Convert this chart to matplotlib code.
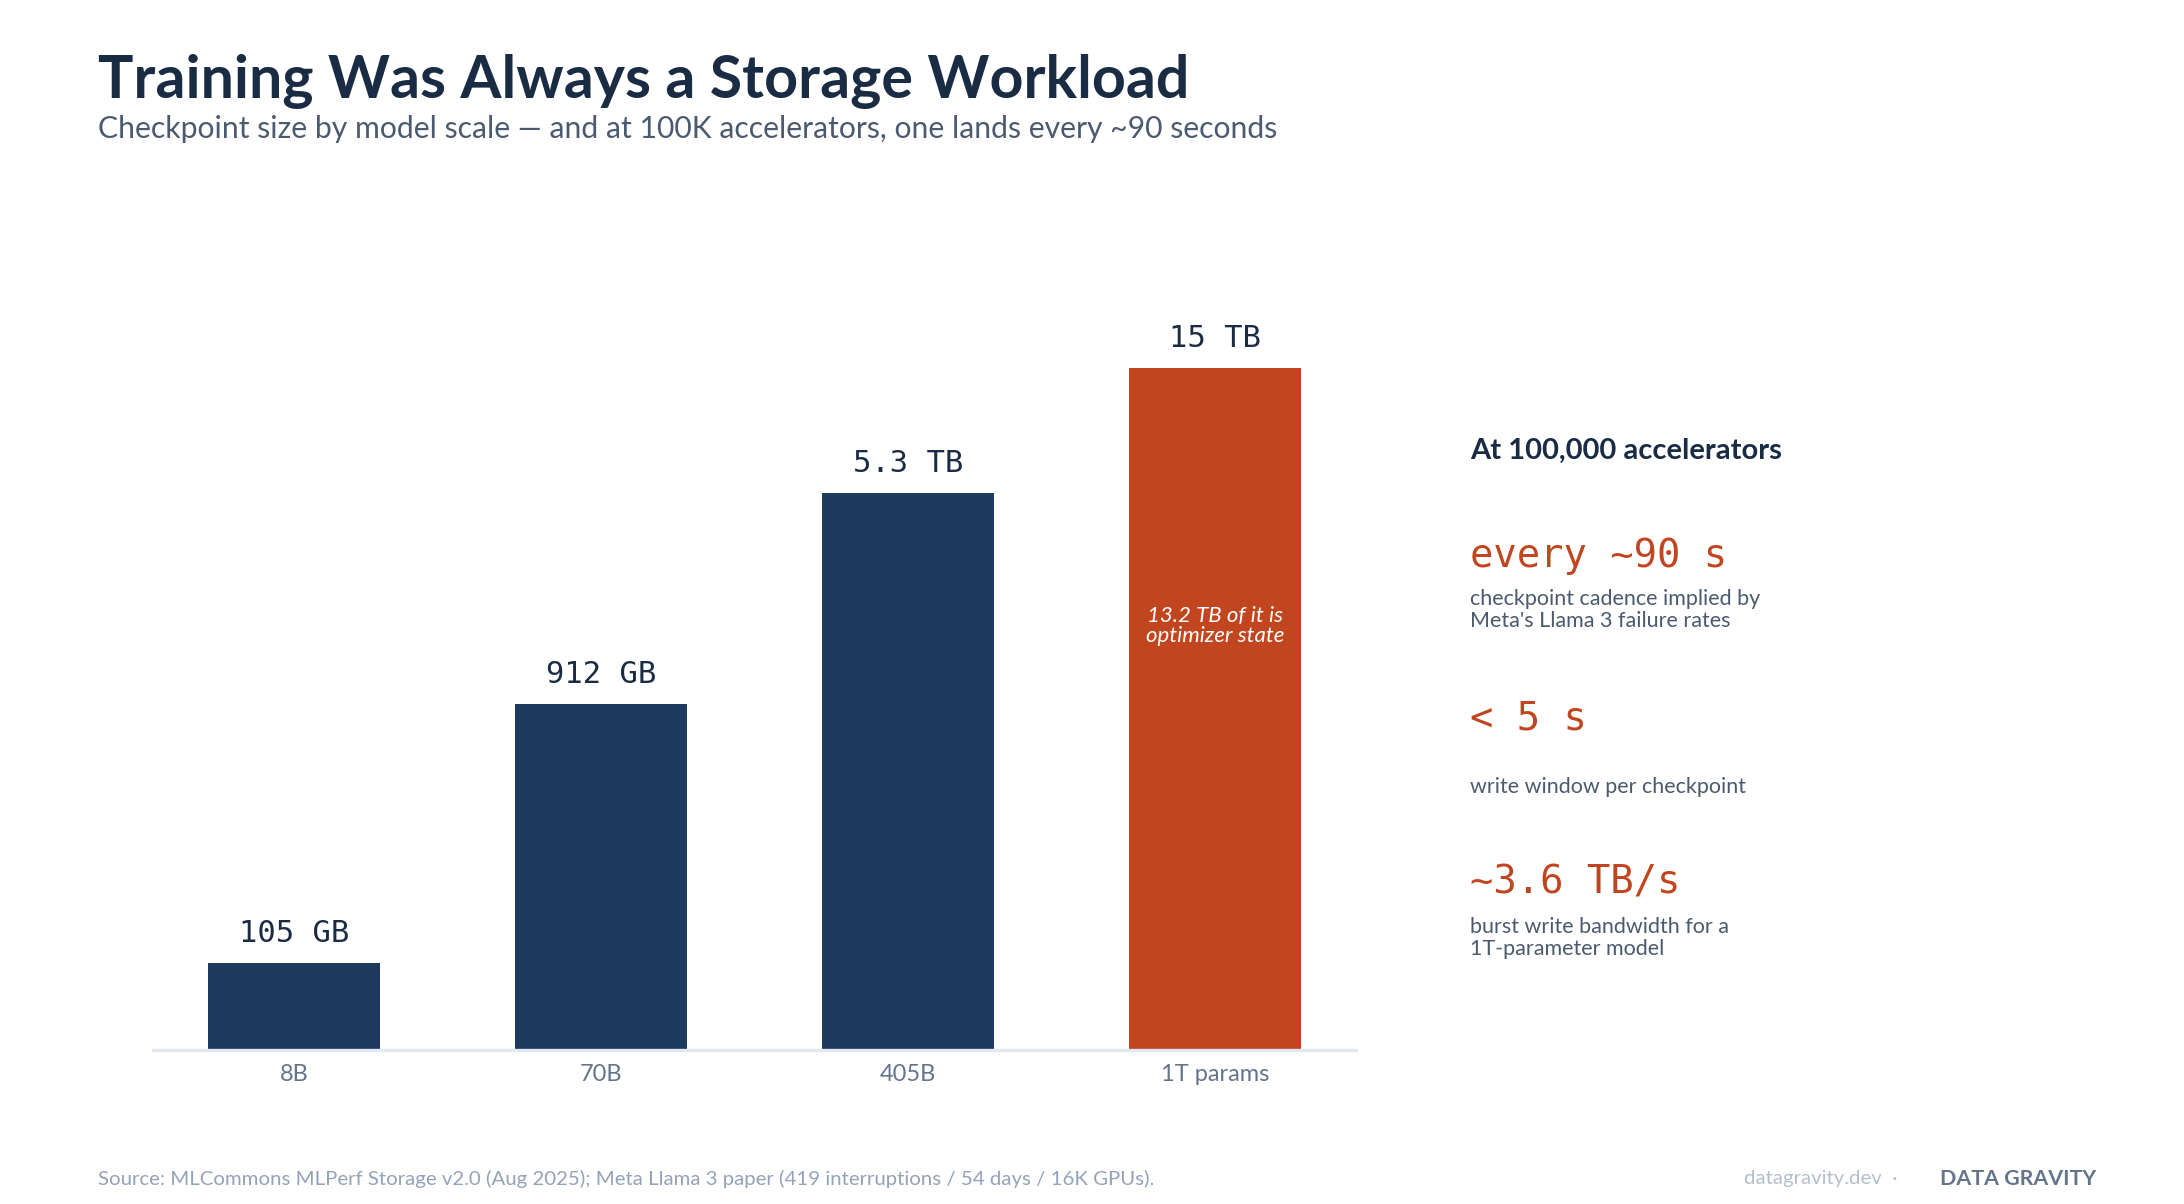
import matplotlib
import matplotlib.pyplot as plt

matplotlib.rcParams["font.family"] = ["Lato", "DejaVu Sans"]

# data
models = ["8B", "70B", "405B", "1T params"]
ckpt_gb = [105, 912, 5300, 15000]
value_labels = ["105 GB", "912 GB", "5.3 TB", "15 TB"]
bar_colors = ["#1f3a5f", "#1f3a5f", "#1f3a5f", "#c1451f"]

stat_values = ["every ~90 s", "< 5 s", "~3.6 TB/s"]
stat_notes = [
    "checkpoint cadence implied by\nMeta's Llama 3 failure rates",
    "write window per checkpoint",
    "burst write bandwidth for a\n1T-parameter model",
]

NAVY = "#1a2b44"
ORANGE = "#c1451f"
MONO = "DejaVu Sans Mono"


def main():
    fig = plt.figure(figsize=(10.92, 6.02), dpi=200)
    fig.patch.set_facecolor("white")

    ax = fig.add_axes([0.0699, 0.1279, 0.551, 0.686])
    x = list(range(len(models)))
    bars = ax.bar(x, ckpt_gb, width=0.56, color=bar_colors, zorder=2)
    ax.set_yscale("log")
    ax.set_ylim(51, 50000)
    ax.set_xlim(-0.46, 3.46)

    for rect, lab in zip(bars, value_labels):
        ax.annotate(
            lab,
            (rect.get_x() + rect.get_width() / 2, rect.get_height()),
            xytext=(0, 5.5),
            textcoords="offset points",
            ha="center",
            va="bottom",
            fontsize=11,
            family=MONO,
            color=NAVY,
        )

    ax.text(
        3, 1750, "13.2 TB of it is\noptimizer state",
        ha="center", va="center", fontsize=8, style="italic",
        color="white", linespacing=1.05,
    )

    for side in ["top", "right", "left"]:
        ax.spines[side].set_visible(False)
    ax.spines["bottom"].set_color("#e2e8f0")
    ax.spines["bottom"].set_linewidth(1.2)
    ax.set_yticks([])
    ax.minorticks_off()
    ax.set_xticks(x)
    ax.set_xticklabels(models)
    ax.tick_params(axis="x", length=0, pad=5, labelsize=8.5, colors="#64748b")

    # header
    fig.text(0.0449, 0.9186, "Training Was Always a Storage Workload",
             fontsize=21.3, fontweight="bold", color=NAVY, va="baseline")
    fig.text(0.0449, 0.885,
             "Checkpoint size by model scale \u2014 and at 100K accelerators, one lands every ~90 seconds",
             fontsize=10.85, color="#4b5a6e", va="baseline")

    # right panel
    px = 0.673
    fig.text(px, 0.6186, "At 100,000 accelerators", fontsize=10.5,
             fontweight="bold", color=NAVY, va="baseline")
    val_y = [0.529, 0.394, 0.258]
    note_y = [0.5105, 0.3547, 0.2384]
    for v, n, vy, ny in zip(stat_values, stat_notes, val_y, note_y):
        fig.text(px, vy, v, fontsize=14, family=MONO, color=ORANGE, va="baseline")
        fig.text(px, ny, n, fontsize=7.75, color="#4b5a6e", va="top", linespacing=1.1)

    # footer
    fig.text(0.0449, 0.021,
             "Source: MLCommons MLPerf Storage v2.0 (Aug 2025); Meta Llama 3 paper "
             "(419 interruptions / 54 days / 16K GPUs).",
             fontsize=7.35, color="#94a3b8", va="center")
    fig.text(0.869, 0.021, "datagravity.dev  \u00b7", fontsize=7.35,
             color="#b4bfcc", va="center", ha="right")
    fig.text(0.9596, 0.021, "DATA GRAVITY", fontsize=7.7, fontweight="bold",
             color="#64748b", va="center", ha="right")

    fig.savefig("out.png", dpi=200, facecolor="white")


if __name__ == "__main__":
    main()
